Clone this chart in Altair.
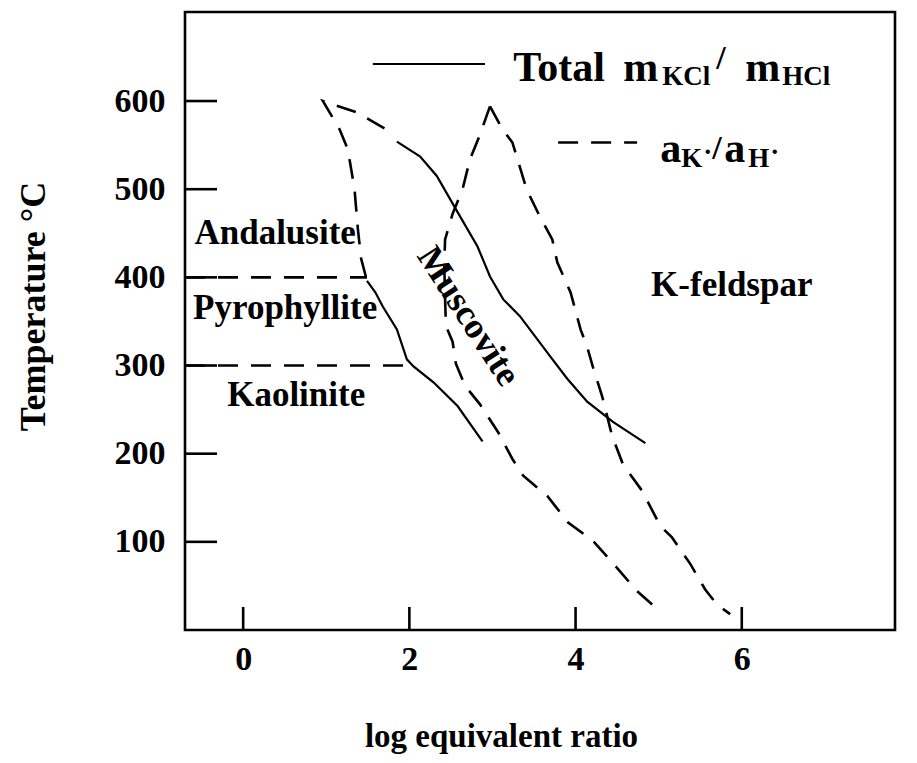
import altair as alt
import pandas as pd

FONT = "Liberation Serif"

# ---- boundary curves: log equivalent ratio (x), temperature °C (T)
dashA_x = [1.70, 1.37, 0.96, 1.16, 1.26, 1.34, 1.38, 1.42, 1.49]
dashA_T = [569, 587, 600, 568, 545, 500, 455, 421, 396]

solidL_x = [1.49, 1.59, 1.68, 1.85, 1.97, 2.05, 2.29, 2.58, 2.88]
solidL_T = [396, 383, 367, 341, 307, 299, 281, 254, 214]

solidR_x = [1.85, 2.13, 2.33, 2.58, 2.82, 2.97, 3.13, 3.33, 3.69, 3.90, 4.14, 4.45, 4.84]
solidR_T = [554, 537, 515, 474, 435, 401, 375, 356, 311, 285, 259, 236, 212]

dashB_x = [2.97, 2.85, 2.73, 2.64, 2.52, 2.43, 2.42, 2.43, 2.44, 2.52, 2.56, 2.67,
           2.85, 3.07, 3.24, 3.37, 3.66, 3.91, 4.21, 4.44, 4.74, 4.98]
dashB_T = [594, 562, 534, 500, 472, 443, 415, 375, 345, 327, 302, 277,
           256, 224, 194, 175, 152, 122, 101, 77, 44, 24]

dashC_x = [2.97, 3.12, 3.24, 3.33, 3.41, 3.57, 3.72, 3.78, 3.94, 4.06, 4.14, 4.21,
           4.32, 4.44, 4.57, 4.80, 5.02, 5.16, 5.38, 5.56, 5.70, 5.86]
dashC_T = [594, 568, 553, 525, 500, 469, 443, 417, 383, 341, 321, 298,
           265, 220, 188, 158, 118, 105, 75, 46, 29, 18]

and400_x = [-0.70, 1.49]
and400_T = [400, 400]
pyr300_x = [-0.70, 2.02]
pyr300_T = [300, 300]

# legend sample lines
leg_solid_x = [1.56, 2.91]
leg_solid_T = [642, 642]
leg_dash_x = [3.79, 4.74]
leg_dash_T = [553, 553]

# axis ticks
x_ticks = [0, 2, 4, 6]
y_ticks = [100, 200, 300, 400, 500, 600]

# field labels
field_text = ["Andalusite", "Pyrophyllite", "Kaolinite", "K-feldspar"]
field_x = [0.385, 0.505, 0.638, 5.88]
field_T = [438, 353, 254, 379]

# legend text pieces
leg_text = ["Total", "m", "KCl", "/", "m", "HCl",
            "a", "K", "·", "/", "a", "H", "·"]
leg_x = [3.249, 4.573, 5.042, 5.692, 6.041, 6.486,
         5.018, 5.271, 5.536, 5.644, 5.788, 6.077, 6.342]
leg_T = [622.4, 622.4, 617.9, 636, 622.4, 617.9,
         530.6, 525, 532, 534, 530.6, 525, 532]
leg_fs = [42, 42, 27, 34, 42, 27,
          42, 27, 27, 34, 42, 27, 27]


def curves(items):
    rows = []
    for name, xs, ts in items:
        for i, (a, b) in enumerate(zip(xs, ts)):
            rows.append({"curve": name, "order": i, "x": a, "T": b})
    return pd.DataFrame(rows)


dashed_df = curves([
    ("A", dashA_x, dashA_T),
    ("B", dashB_x, dashB_T),
    ("C", dashC_x, dashC_T),
    ("h400", and400_x, and400_T),
    ("h300", pyr300_x, pyr300_T),
    ("leg", leg_dash_x, leg_dash_T),
])
solid_df = curves([
    ("L", solidL_x, solidL_T),
    ("R", solidR_x, solidR_T),
    ("leg", leg_solid_x, leg_solid_T),
])

xscale = alt.Scale(domain=[-0.70, 7.844], nice=False, zero=False)
yscale = alt.Scale(domain=[0, 701], nice=False, zero=False)

X = alt.X("x:Q", scale=xscale, axis=alt.Axis(
    values=x_ticks, title="log equivalent ratio", ticks=False, tickSize=0,
    domain=False, grid=False, labelFont=FONT, labelFontSize=34,
    labelFontWeight="bold", labelColor="black", labelPadding=12,
    titleFont=FONT, titleFontSize=33, titleFontWeight="bold", titleColor="black",
    titleX=316, titleY=116, titleAlign="center", titleBaseline="alphabetic"))
Y = alt.Y("T:Q", scale=yscale, axis=alt.Axis(
    values=y_ticks, title="Temperature °C", ticks=False, tickSize=0,
    domain=False, grid=False, labelFont=FONT, labelFontSize=34,
    labelFontWeight="bold", labelColor="black", labelPadding=20,
    titleFont=FONT, titleFontSize=36, titleFontWeight="bold", titleColor="black",
    titleAngle=270, titleX=-152, titleY=294, titleAlign="center",
    titleBaseline="middle"))

dashed = alt.Chart(dashed_df).mark_line(
    color="black", strokeWidth=2.6, strokeDash=[20, 13]
).encode(x=X, y=Y, detail="curve:N", order="order:Q")

solid = alt.Chart(solid_df).mark_line(
    color="black", strokeWidth=2.2
).encode(x=X, y=Y, detail="curve:N", order="order:Q")

ytick_df = pd.DataFrame({"T": y_ticks})
yticks = alt.Chart(ytick_df).mark_rule(color="black", strokeWidth=2.6).encode(
    y=Y, x=alt.value(0), x2=alt.value(32))

xtick_df = pd.DataFrame({"x": x_ticks})
xticks = alt.Chart(xtick_df).mark_rule(color="black", strokeWidth=2.6).encode(
    x=X, y=alt.value(618), y2=alt.value(595))

field_df = pd.DataFrame({"text": field_text, "x": field_x, "T": field_T})
fields = alt.Chart(field_df).mark_text(
    font=FONT, fontWeight="bold", fontSize=35, color="black",
    align="center", baseline="alphabetic"
).encode(x=X, y=Y, text="text:N")

musc_df = pd.DataFrame({"text": ["Muscovite"], "x": [2.71], "T": [356]})
musc = alt.Chart(musc_df).mark_text(
    font=FONT, fontWeight="bold", fontSize=36, color="black",
    align="center", baseline="middle", angle=57
).encode(x=X, y=Y, text="text:N")

leg_df = pd.DataFrame({"text": leg_text, "x": leg_x, "T": leg_T, "fs": leg_fs})
legend_text = alt.Chart(leg_df).mark_text(
    font=FONT, fontWeight="bold", color="black",
    align="left", baseline="alphabetic"
).encode(x=X, y=Y, text="text:N", size=alt.Size("fs:Q", scale=None))

chart = alt.layer(
    dashed, solid, yticks, xticks, fields, musc, legend_text
).properties(
    width=710, height=618,
    padding={"left": 185, "top": 12, "right": 22, "bottom": 133},
    autosize=alt.AutoSizeParams(type="none"),
    background="white",
).configure_view(stroke="black", strokeWidth=2.6)

chart.save("out.html", embed_options={"renderer": "svg", "actions": False})
